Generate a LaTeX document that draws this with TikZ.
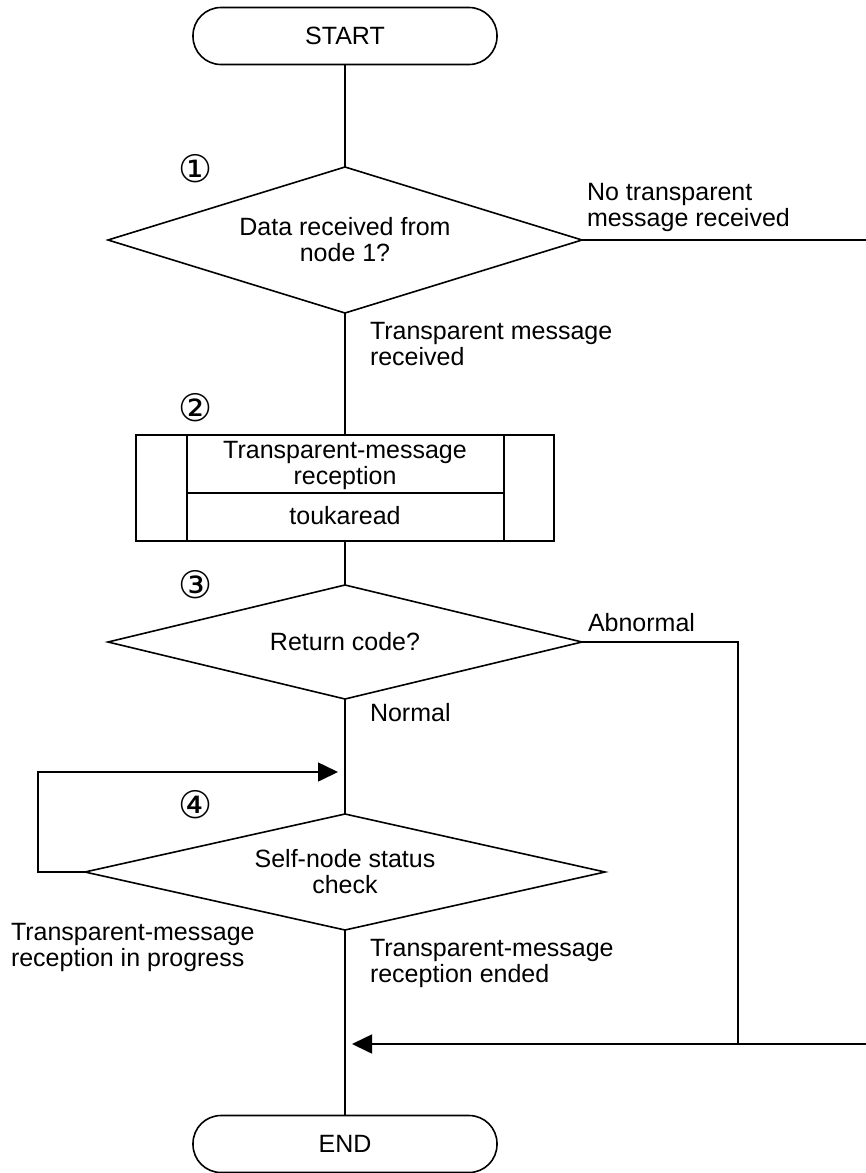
\documentclass[tikz,border=0pt]{standalone}
\usepackage{fontspec}
\setmainfont{Liberation Sans}
\newfontfamily\numfont{DejaVu Sans}
\usepackage{tikz}
\usetikzlibrary{arrows.meta,shapes.geometric}

\begin{document}
\begin{tikzpicture}[x=1pt, y=-1pt, line width=1.6pt,
	every node/.style={font=\fontsize{25}{26}\selectfont, inner sep=0pt, outer sep=0pt},
	>={Triangle[length=20pt,width=19pt]},
	term/.style={draw, rounded corners=28pt, minimum width=304pt, minimum height=57pt},
	ask/.style={draw, diamond, align=center},
	lbl/.style={anchor=north west, align=left}]
	\useasboundingbox (0,0) rectangle (866,1173);
	% terminals and steps
	\node[term] (start) at (345,36) {START};
	\node[ask, aspect=3.3, minimum width=474pt, minimum height=146pt] (ask1) at (345,240) {Data received from\\node 1?};
	\node[draw, minimum width=418pt, minimum height=106pt] (recv) at (345,488) {};
	\node[align=center] (recvname) at (345,465) {Transparent-message\\reception};
	\node (recvcall) at (345,516) {toukaread};
	\node[ask, aspect=4.2, minimum width=474pt, minimum height=114pt] (ask2) at (345,642) {Return code?};
	\node[ask, aspect=4.5, minimum width=520pt, minimum height=116pt] (ask3) at (345,872) {Self-node status\\check};
	\node[term] (stop) at (345,1144) {END};
	\draw ([xshift=51pt]recv.north west) -- ([xshift=51pt]recv.south west);
	\draw ([xshift=-50pt]recv.north east) -- ([xshift=-50pt]recv.south east);
	\draw ([xshift=51pt,yshift=-58pt]recv.north west) -- ([xshift=-50pt,yshift=-58pt]recv.north east);
	% step numbers
	\foreach \c/\y/\n in {①/169/1,②/408/2,③/585/3,④/805/4}
		\node[font=\numfont\fontsize{38}{38}\selectfont] (num\n) at (196,\y) {\c};
	% main line
	\draw (start) -- (ask1);
	\draw (ask1) -- (recv);
	\draw (recv) -- (ask2);
	\draw (ask2) -- (ask3);
	\draw (ask3) -- (stop);
	% branches
	\coordinate (out1) at (866,240);
	\coordinate (abn) at (738,642);
	\coordinate (in2) at (866,1044);
	\coordinate (loop) at (38,772);
	\coordinate (back) at (345,772);
	\draw (ask1.east) -- (out1);
	\draw (ask2.east) -- (abn) -- (abn |- in2);
	\draw[->, shorten >=7pt] (in2) -- (ask3.south |- in2);
	\draw[->, shorten >=7pt] (ask3.west) -| (loop) -- (back);
	% branch labels
	\node[lbl] (lno) at (587,183) {No transparent\\message received};
	\node[lbl] (lyes) at (370,322) {Transparent message\\received};
	\node[lbl] (labn) at (588,613) {Abnormal};
	\node[lbl] (lnorm) at (370,703) {Normal};
	\node[lbl] (lbusy) at (11,923) {Transparent-message\\reception in progress};
	\node[lbl] (ldone) at (370,939) {Transparent-message\\reception ended};
\end{tikzpicture}
\end{document}
